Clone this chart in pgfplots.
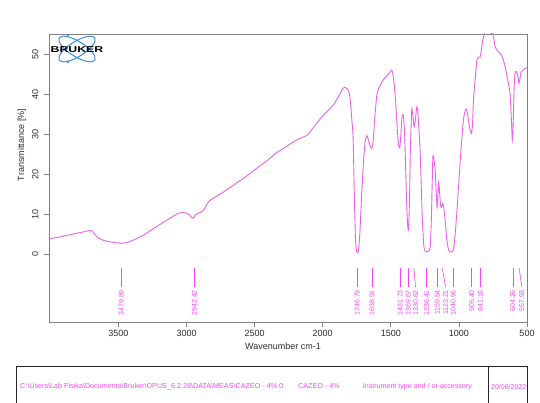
\documentclass[border=0pt]{standalone}
\usepackage{fontspec}
\setmainfont{Liberation Sans}
\usepackage{pgfplots}
\pgfplotsset{compat=1.18}
\definecolor{spec}{RGB}{236,96,236}
\definecolor{pk}{RGB}{250,70,250}
\definecolor{axgray}{RGB}{130,130,130}
\definecolor{txtgray}{RGB}{45,45,45}
\definecolor{logoblue}{RGB}{60,140,230}
\begin{document}
\begin{tikzpicture}[x=1pt,y=1pt]
\useasboundingbox (0,0) rectangle (540,402);
\begin{axis}[at={(49pt,80pt)}, anchor=south west, scale only axis,
  width=478pt, height=288pt,
  x dir=reverse, xmin=500, xmax=4010, ymin=-16.9, ymax=55,
  xtick={500,1000,...,3500}, ytick={0,10,...,50},
  axis line style={axgray, line width=0.8pt},
  tick style={axgray, line width=0.8pt},
  tick align=outside, major tick length=5pt,
  xtick pos=bottom, ytick pos=left,
  ticklabel style={font=\fontsize{9}{10}\selectfont, text=txtgray},
  /pgf/number format/assume math mode=true,
  /pgf/number format/1000 sep={},
  yticklabel style={rotate=90, anchor=south},
  yticklabel shift=2pt,
  scaled ticks=false, clip=true]
\addplot[spec, line width=0.9pt, smooth, tension=0.35] coordinates {
(4010,3.9) (3950,4.2) (3880,4.7) (3800,5.3) (3740,5.7) (3705,6.0) (3690,5.7) (3670,4.8)
(3645,4.0) (3610,3.5) (3560,3.1) (3500,2.8) (3480,2.75) (3440,2.9) (3400,3.4) (3320,4.7)
(3240,6.5) (3150,8.4) (3064,10.2) (3030,10.4) (3005,10.3) (2980,9.9) (2960,9.1) (2952,9.0)
(2940,9.6) (2925,10.1) (2895,10.5) (2875,11.0) (2850,12.5) (2830,13.4) (2780,14.5)
(2727,15.6) (2650,17.4) (2560,19.5) (2480,21.6) (2405,23.5) (2350,25.1) (2310,26.0)
(2250,27.3) (2200,28.4) (2163,29.0) (2112,29.8) (2060,32.0) (1994,34.8) (1921,37.3)
(1880,39.6) (1855,41.3) (1840,41.7) (1819,41.3) (1805,40.2) (1795,37.5) (1785,33)
(1777,29.3) (1768,15) (1760,4.3) (1752,0.8) (1745,0.4) (1737,1.0) (1727,5.5) (1718,12)
(1711,16.8) (1700,23.5) (1688,28.3) (1676,29.6) (1665,28.6) (1650,26.8) (1639,26.5)
(1630,28) (1618,34) (1601,40.2) (1577,42.3) (1550,43.8) (1520,44.9) (1504,45.6) (1493,46.0)
(1482,44.5) (1467,39.3) (1452,31) (1443,27.3) (1434,26.6) (1425,30.5) (1418,34.3)
(1408,34.8) (1400,31) (1394,25.2) (1385,14) (1377,7.5) (1370,6.0) (1364,12) (1357,25.2)
(1350,33) (1345,36.4) (1337,34.5) (1329,31.8) (1320,33.5) (1310,36.8) (1303,36.0)
(1295,32) (1284,25.2) (1270,10) (1258,2.2) (1248,0.8) (1236,0.6) (1222,0.8) (1211,1.8)
(1203,8) (1196,18) (1191,24.5) (1185,24.0) (1174,21) (1166,15) (1160,11.8) (1155,14)
(1149,18) (1143,16) (1134,12) (1127,11.8) (1120,12.7) (1113,12.2) (1101,8.5) (1090,4)
(1077,1.2) (1065,0.6) (1050,0.6) (1038,1.5) (1027,5.2) (1015,10.5) (1003,16.8) (985,26)
(967,33.5) (955,35.8) (947,36.3) (938,35.3) (930,33.5) (920,31.3) (908,30.2) (900,32.5)
(893,38.5) (880,44) (868,48.5) (855,49.2) (844,49.3) (835,51) (825,53.5) (810,55.3)
(795,56) (784,55.8) (770,55.3) (751,55) (742,53.5) (734,51.8) (718,50.8) (698,50.2)
(685,49.5) (674,48.5) (660,46.8) (649,44.8) (637,42.8) (625,40.2) (615,34) (608,28.5)
(602,32) (595,41) (588,45.2) (575,45.6) (566,44.3) (559,42.7) (552,43.8) (545,45.3)
(535,45.8) (520,46.3) (507,46.5) (500,46.6)
};
\pgfplotsinvokeforeach{3479.89,2942.42,1746.79,1638.91,1431.73,1236.41,1159.54,1040.96,905.40,841.16,604.26}{
  \addplot[pk, line width=0.6pt, forget plot] coordinates {(#1,-3.4) (#1,-8.2)};
  \node[pk, rotate=90, anchor=east, inner sep=0pt, font=\fontsize{7}{8}\selectfont] at (axis cs:#1,-8.9) {#1};
}
\addplot[pk, line width=0.6pt, forget plot] coordinates {(1369.67,-3.4) (1369.67,-8.2)};
\node[pk, rotate=90, anchor=east, inner sep=0pt, font=\fontsize{7}{8}\selectfont] at (axis cs:1372,-8.9) {1369.67};
\addplot[pk, line width=0.6pt, forget plot] coordinates {(1330.62,-3.4) (1318,-8.2)};
\node[pk, rotate=90, anchor=east, inner sep=0pt, font=\fontsize{7}{8}\selectfont] at (axis cs:1318,-8.9) {1330.62};
\addplot[pk, line width=0.6pt, forget plot] coordinates {(1123.21,-3.4) (1097,-8.2)};
\node[pk, rotate=90, anchor=east, inner sep=0pt, font=\fontsize{7}{8}\selectfont] at (axis cs:1097,-8.9) {1123.21};
\addplot[pk, line width=0.6pt, forget plot] coordinates {(557.93,-3.4) (538,-8.2)};
\node[pk, rotate=90, anchor=east, inner sep=0pt, font=\fontsize{7}{8}\selectfont] at (axis cs:538,-8.9) {557.93};
\end{axis}
% Bruker logo
\draw[logoblue, line width=1pt, rotate around={32:(77,353)}] (77,353) ellipse (21 and 7.5);
\draw[logoblue, line width=1pt, rotate around={-32:(77,353)}] (77,353) ellipse (21 and 7.5);
\fill[logoblue] (68,367) circle (1.3);
\fill[logoblue] (68,340) circle (1.3);
\node[font=\bfseries\fontsize{8.5}{9}\selectfont, xscale=1.45, inner sep=0pt] at (77,352.7) {BRUKER};
% axis labels
\node[txtgray, font=\fontsize{9}{10}\selectfont] at (283,55.3) {Wavenumber cm-1};
\node[txtgray, rotate=90, font=\fontsize{9}{10}\selectfont] at (21.7,257) {Transmittance [\%]};
% info box
\draw[black!85, line width=0.8pt] (16,-2) -- (16,35.5) -- (527,35.5) -- (527,-2);
\draw[black!85, line width=0.8pt] (488,35.5) -- (488,-2);
\node[pk, anchor=west, inner sep=0pt, font=\fontsize{7.2}{8}\selectfont] at (20,15.5) {C:\textbackslash Users\textbackslash Lab Fisika\textbackslash Documents\textbackslash Bruker\textbackslash OPUS\_6.2.28\textbackslash DATA\textbackslash MEAS\textbackslash CAZEO - 4\%.0};
\node[pk, anchor=west, inner sep=0pt, font=\fontsize{7.2}{8}\selectfont] at (298,15.5) {CAZEO - 4\%};
\node[pk, anchor=west, inner sep=0pt, font=\fontsize{7.1}{8}\selectfont] at (362.7,15.5) {Instrument type and / or accessory};
\node[pk, anchor=west, inner sep=0pt, font=\fontsize{7}{8}\selectfont] at (491,15.5) {20/06/2022};
\end{tikzpicture}
\end{document}
